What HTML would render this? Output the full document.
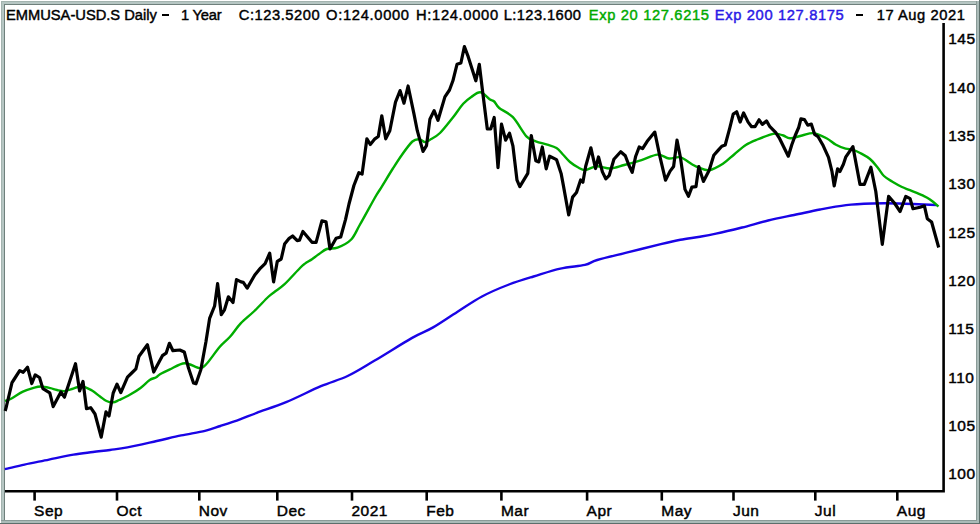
<!DOCTYPE html>
<html><head><meta charset="utf-8"><style>
html,body{margin:0;padding:0;width:980px;height:524px;overflow:hidden;background:#fff;}
body{position:relative;font-family:"Liberation Sans", sans-serif;}
</style></head><body>
<svg width="980" height="524" style="position:absolute;left:0;top:0">
<rect x="0" y="0" width="980" height="524" fill="#ffffff"/>
<rect x="1" y="1" width="978" height="1" fill="#a3b3af"/>
<rect x="1" y="1" width="1" height="522" fill="#a3b3af"/>
<rect x="2" y="2" width="974" height="2" fill="#b6c6c3"/>
<rect x="2" y="2" width="2" height="518" fill="#b6c6c3"/>
<rect x="4" y="4" width="972" height="1" fill="#6f807c"/>
<rect x="4" y="4" width="1" height="516" fill="#6f807c"/>
<rect x="976" y="1" width="1" height="522" fill="#8a9b98"/>
<rect x="1" y="520" width="976" height="1" fill="#8a9b98"/>
<rect x="977" y="1" width="2" height="523" fill="#aabbb8"/>
<rect x="1" y="521" width="978" height="2" fill="#aabbb8"/>
<rect x="979" y="0" width="1" height="524" fill="#5c6f6b"/>
<rect x="0" y="523" width="980" height="1" fill="#5c6f6b"/>
<path d="M5,491.2 H943.6 V23" fill="none" stroke="#000" stroke-width="2.6"/>
<path d="M34.6,491 V500.6" stroke="#000" stroke-width="2.6"/>
<path d="M117.0,491 V500.6" stroke="#000" stroke-width="2.6"/>
<path d="M199.3,491 V500.6" stroke="#000" stroke-width="2.6"/>
<path d="M277.3,491 V500.6" stroke="#000" stroke-width="2.6"/>
<path d="M352.0,491 V500.6" stroke="#000" stroke-width="2.6"/>
<path d="M426.7,491 V500.6" stroke="#000" stroke-width="2.6"/>
<path d="M501.4,491 V500.6" stroke="#000" stroke-width="2.6"/>
<path d="M587.1,491 V500.6" stroke="#000" stroke-width="2.6"/>
<path d="M661.8,491 V500.6" stroke="#000" stroke-width="2.6"/>
<path d="M733.5,491 V500.6" stroke="#000" stroke-width="2.6"/>
<path d="M815.3,491 V500.6" stroke="#000" stroke-width="2.6"/>
<path d="M897.3,491 V500.6" stroke="#000" stroke-width="2.6"/>
<path d="M4.9,469.1 C8.2,468.4 17.1,466.2 24.5,464.6 C31.9,463.0 40.8,461.3 49.0,459.6 C57.2,457.9 66.2,455.9 73.5,454.6 C80.8,453.3 86.9,452.8 93.0,452.0 C99.1,451.2 104.3,450.8 110.0,450.0 C115.7,449.2 119.6,448.9 127.4,447.4 C135.2,445.9 147.7,443.0 156.7,441.0 C165.7,439.0 173.1,437.1 181.2,435.4 C189.2,433.7 198.5,432.4 205.0,430.8 C211.5,429.2 214.6,427.9 220.4,426.0 C226.2,424.1 233.9,421.6 240.0,419.4 C246.1,417.2 249.0,415.8 256.7,412.9 C264.4,410.0 275.4,406.6 286.1,402.2 C296.8,397.8 310.6,390.6 320.9,386.2 C331.1,381.8 338.7,380.2 347.6,376.0 C356.5,371.8 363.6,367.1 374.3,360.8 C385.0,354.5 401.9,343.7 411.7,338.1 C421.5,332.5 425.5,331.8 433.1,327.4 C440.7,323.0 449.1,317.0 457.2,311.9 C465.3,306.8 473.4,301.1 482.0,296.5 C490.6,291.9 500.4,287.8 509.0,284.5 C517.6,281.2 524.9,279.1 533.5,276.5 C542.1,273.9 551.8,270.5 560.4,268.6 C569.0,266.7 578.8,266.3 584.9,264.9 C591.0,263.5 590.3,262.0 597.2,260.0 C604.1,258.0 615.9,255.3 626.5,252.7 C637.1,250.0 651.8,246.3 660.8,244.1 C669.8,241.9 673.9,240.9 680.4,239.7 C686.9,238.5 694.1,237.7 700.0,236.7 C705.9,235.7 709.0,235.2 716.0,233.7 C723.0,232.2 733.3,229.7 742.0,227.5 C750.7,225.3 759.4,222.6 768.1,220.5 C776.8,218.4 785.4,216.8 794.1,215.0 C802.8,213.2 811.4,211.2 820.1,209.5 C828.8,207.8 837.4,206.1 846.1,205.1 C854.8,204.1 863.4,203.8 872.1,203.5 C880.8,203.2 887.4,203.2 898.2,203.5 C909.1,203.8 930.7,204.8 937.2,205.1" fill="none" stroke="#1a04e6" stroke-width="2.4" stroke-linejoin="round"/>
<path d="M5.0,401.0 C6.1,400.6 8.5,400.1 11.5,398.5 C14.5,396.9 19.1,393.5 22.9,391.7 C26.7,389.9 31.3,388.5 34.4,387.6 C37.5,386.7 38.5,386.4 41.2,386.5 C43.9,386.6 47.8,387.6 50.4,388.2 C53.0,388.8 54.6,389.5 57.0,390.0 C59.4,390.5 62.0,391.3 64.5,391.1 C67.0,390.9 69.1,389.8 72.0,389.0 C74.9,388.2 78.4,385.9 81.7,386.2 C85.0,386.4 89.0,388.8 92.0,390.5 C95.0,392.2 97.6,394.8 100.0,396.5 C102.4,398.2 104.3,400.0 106.5,401.0 C108.7,402.0 110.9,402.6 113.0,402.4 C115.1,402.2 116.4,401.3 119.2,400.0 C122.0,398.7 126.3,396.8 129.8,394.8 C133.4,392.8 137.2,390.5 140.5,388.0 C143.8,385.5 147.1,381.8 149.7,380.0 C152.2,378.2 154.1,378.4 155.8,377.5 C157.5,376.6 157.7,375.7 160.0,374.3 C162.3,372.9 165.8,371.2 169.9,369.4 C174.0,367.5 179.8,363.4 184.8,363.2 C189.8,363.0 196.0,368.1 199.7,368.1 C203.4,368.1 203.8,366.7 207.1,363.2 C210.4,359.7 215.8,351.4 219.6,347.0 C223.4,342.6 226.5,340.7 230.0,336.8 C233.5,332.9 236.6,327.7 240.7,323.4 C244.8,319.1 249.8,315.4 254.4,311.0 C259.0,306.6 264.7,300.2 268.1,297.0 C271.5,293.8 272.2,293.6 275.0,291.5 C277.8,289.4 280.4,288.1 284.6,284.2 C288.8,280.3 296.6,271.4 300.0,268.0 C303.4,264.6 303.0,265.1 305.0,263.6 C307.0,262.1 309.7,260.8 312.0,259.2 C314.3,257.6 316.2,256.0 318.7,254.3 C321.2,252.6 323.7,250.1 326.8,249.0 C329.9,247.9 333.4,249.3 337.5,247.7 C341.6,246.1 347.4,243.4 351.2,239.5 C354.9,235.6 356.0,231.5 360.0,224.5 C364.0,217.5 371.7,203.3 375.0,197.5 C378.3,191.7 377.0,194.3 380.0,189.5 C383.0,184.7 389.2,174.3 392.9,168.5 C396.6,162.7 398.8,159.2 402.0,154.7 C405.2,150.2 409.5,144.1 412.4,141.5 C415.3,138.9 417.1,139.1 419.2,139.2 C421.3,139.3 423.2,142.0 425.0,142.1 C426.8,142.2 427.5,141.3 430.0,139.8 C432.5,138.3 436.2,136.7 440.0,133.0 C443.8,129.3 449.0,122.4 452.9,117.5 C456.8,112.6 460.1,107.2 463.2,103.8 C466.3,100.4 468.4,98.8 471.3,96.9 C474.2,95.0 477.3,91.9 480.4,92.3 C483.4,92.7 487.3,97.7 489.6,99.2 C491.9,100.7 492.6,100.0 494.2,101.5 C495.8,103.0 496.1,105.4 499.2,108.0 C502.3,110.6 508.3,112.4 512.9,117.2 C517.5,122.0 522.9,132.7 526.7,136.7 C530.5,140.7 532.4,140.0 535.8,141.3 C539.2,142.6 543.8,143.6 547.3,144.7 C550.8,145.8 553.8,146.4 556.5,148.1 C559.2,149.8 561.1,152.7 563.4,155.0 C565.6,157.3 567.5,159.9 570.0,162.0 C572.5,164.1 575.8,166.2 578.3,167.5 C580.8,168.8 582.1,170.3 585.2,170.1 C588.3,169.9 592.5,166.5 596.7,166.2 C600.9,165.9 605.8,168.7 610.4,168.5 C615.0,168.3 619.0,166.4 624.2,165.0 C629.4,163.6 636.0,161.8 641.5,160.1 C647.0,158.4 652.9,154.9 657.5,154.6 C662.1,154.3 665.2,158.1 669.0,158.5 C672.8,158.9 676.6,156.4 680.4,157.3 C684.2,158.2 688.8,162.5 691.9,164.2 C695.0,165.9 695.9,166.6 698.8,167.6 C701.7,168.6 705.2,170.8 709.2,170.2 C713.2,169.6 718.7,166.5 722.9,163.8 C727.1,161.1 730.6,157.3 734.4,154.2 C738.2,151.1 742.0,147.4 745.8,145.0 C749.6,142.6 753.5,141.1 757.3,139.5 C761.1,137.9 765.8,136.2 768.8,135.2 C771.8,134.2 773.2,133.5 775.6,133.6 C778.0,133.7 781.0,134.7 783.4,135.5 C785.8,136.3 786.9,138.3 790.0,138.3 C793.1,138.3 798.2,136.3 802.1,135.5 C806.0,134.7 809.5,132.8 813.6,133.2 C817.7,133.6 822.8,136.3 826.5,138.2 C830.2,140.1 832.8,143.1 836.0,144.8 C839.2,146.6 842.7,147.9 845.6,148.7 C848.5,149.5 850.7,149.0 853.2,149.8 C855.8,150.6 858.1,151.9 860.9,153.4 C863.7,154.9 867.1,156.6 870.0,159.0 C872.9,161.4 875.7,165.2 878.0,168.0 C880.3,170.8 881.7,173.8 884.0,176.0 C886.3,178.2 889.0,179.7 892.0,181.5 C895.0,183.3 899.0,185.6 902.0,187.0 C905.0,188.4 906.7,188.8 910.0,190.2 C913.3,191.6 918.7,193.6 922.0,195.2 C925.3,196.8 927.2,197.6 930.0,199.5 C932.8,201.4 937.1,205.3 938.5,206.5" fill="none" stroke="#00ad00" stroke-width="2.4" stroke-linejoin="round"/>
<polyline points="5.2,411.0 6.5,406.0 12.0,382.6 13.7,380.0 19.7,370.6 23.2,372.3 27.5,367.2 31.8,383.5 35.2,374.9 39.5,377.5 42.9,388.6 49.8,392.9 53.2,406.6 60.9,392.0 64.4,397.2 75.5,363.7 79.6,390.9 83.0,381.4 86.5,408.7 90.7,407.7 95.0,414.0 101.2,437.1 106.0,411.9 109.0,416.0 113.2,393.0 117.0,384.2 120.8,392.6 127.5,377.2 131.7,373.0 135.9,368.8 139.0,356.2 147.4,344.7 153.7,372.0 162.4,355.7 166.1,353.2 169.4,343.3 172.9,350.7 179.8,350.0 184.3,352.0 188.5,368.1 193.5,383.0 196.0,383.8 200.9,369.4 205.9,342.0 209.6,318.4 214.6,306.0 217.6,283.7 221.3,314.7 224.5,309.8 228.4,296.8 233.0,302.5 236.5,279.6 241.0,281.9 243.3,282.3 247.2,288.1 254.8,275.0 260.5,268.1 265.1,263.6 269.7,253.2 273.6,281.9 277.3,261.3 281.2,259.0 284.6,244.1 289.2,238.3 292.6,236.0 297.2,240.6 299.5,240.2 302.9,231.5 312.0,242.3 316.1,242.3 321.9,220.9 326.0,221.7 330.0,249.0 336.1,238.3 340.7,237.0 345.5,219.6 349.0,204.0 353.9,185.5 358.9,172.7 362.1,174.1 366.9,138.8 370.3,144.5 374.9,138.8 378.3,136.5 381.8,115.8 385.7,138.8 389.8,130.7 395.5,102.1 400.1,90.6 404.0,103.2 408.1,86.0 413.9,113.6 417.3,130.7 423.0,151.4 426.5,145.6 429.9,119.3 434.1,110.6 438.0,120.3 444.9,96.9 449.5,90.0 452.9,80.8 457.0,64.3 460.9,63.0 464.4,46.5 467.8,55.6 475.8,80.8 479.3,64.3 482.7,92.3 487.3,129.0 490.7,129.0 494.2,117.5 498.0,167.6 501.5,124.1 505.6,140.1 509.5,133.2 512.9,145.8 517.0,180.2 519.8,186.6 527.8,173.4 531.3,135.5 535.8,160.7 538.8,161.9 542.3,147.0 546.2,168.8 549.6,156.2 556.5,159.6 561.1,173.4 563.4,185.6 568.7,215.0 572.6,197.1 576.5,192.5 580.6,179.9 582.9,182.2 585.7,166.2 590.9,147.8 595.5,168.5 598.5,157.0 602.4,171.9 605.8,178.8 609.3,175.3 613.9,159.3 620.7,151.7 625.3,155.8 628.8,165.0 632.2,172.3 635.7,156.2 639.2,147.0 642.6,148.6 647.2,141.3 654.8,132.1 659.8,156.2 665.5,180.2 670.1,171.1 673.6,166.5 677.0,140.1 680.4,157.3 685.0,189.4 688.5,196.3 691.9,187.1 696.0,186.6 698.8,166.5 703.4,181.4 709.2,170.2 713.8,155.3 718.3,150.1 721.8,146.2 725.2,145.0 729.8,127.8 733.2,114.1 736.7,111.8 740.1,122.1 743.6,112.9 748.1,122.1 751.6,126.7 755.0,126.7 759.1,119.8 762.3,124.4 766.5,120.9 769.9,126.7 775.6,132.4 779.2,137.8 788.3,156.2 791.8,144.7 795.2,135.5 798.7,127.5 800.9,118.8 804.4,119.5 807.8,125.2 811.3,124.1 814.7,134.4 818.1,136.7 822.7,144.7 828.5,157.3 831.9,171.1 834.2,186.0 837.6,168.8 839.9,171.5 843.4,164.2 845.7,157.2 852.9,146.6 860.0,184.4 864.3,184.4 870.9,167.2 875.8,191.5 882.3,244.4 888.6,196.4 894.4,203.0 900.1,211.5 905.8,196.4 910.1,198.7 913.0,208.7 920.1,207.3 924.4,205.8 927.3,218.7 931.6,222.0 938.7,247.5" fill="none" stroke="#000" stroke-width="3.2" stroke-linejoin="round"/>
<g font-family="Liberation Sans, sans-serif" font-size="15.5" fill="#000" stroke="#000" stroke-width="0.45" letter-spacing="0.5">
<text x="948.2" y="44.4">145</text>
<text x="948.2" y="92.7">140</text>
<text x="948.2" y="141.1">135</text>
<text x="948.2" y="189.4">130</text>
<text x="948.2" y="237.7">125</text>
<text x="948.2" y="286.0">120</text>
<text x="948.2" y="334.4">115</text>
<text x="948.2" y="382.7">110</text>
<text x="948.2" y="431.0">105</text>
<text x="948.2" y="479.4">100</text>
<text x="34.1" y="516">Sep</text>
<text x="116.5" y="516">Oct</text>
<text x="198.8" y="516">Nov</text>
<text x="276.8" y="516">Dec</text>
<text x="351.5" y="516">2021</text>
<text x="426.2" y="516">Feb</text>
<text x="500.9" y="516">Mar</text>
<text x="586.6" y="516">Apr</text>
<text x="661.3" y="516">May</text>
<text x="733.0" y="516">Jun</text>
<text x="814.8" y="516">Jul</text>
<text x="896.8" y="516">Aug</text>
</g>
<rect x="162" y="14" width="7" height="2" fill="#000"/>
<rect x="856" y="14" width="7" height="2" fill="#000"/>
<g transform="translate(6.0,0) scale(0.95,1)"><text x="0" y="19.9" font-family="Liberation Sans, sans-serif" font-size="15.5" fill="#000" stroke="#000" stroke-width="0.45" textLength="158.72" lengthAdjust="spacing">EMMUSA-USD.S Daily</text></g>
<g transform="translate(180.9,0) scale(0.95,1)"><text x="0" y="19.9" font-family="Liberation Sans, sans-serif" font-size="15.5" fill="#000" stroke="#000" stroke-width="0.45" textLength="42.89" lengthAdjust="spacing">1 Year</text></g>
<g transform="translate(238.75,0) scale(0.95,1)"><text x="0" y="19.9" font-family="Liberation Sans, sans-serif" font-size="15.5" fill="#000" stroke="#000" stroke-width="0.45" textLength="85.12" lengthAdjust="spacing">C:123.5200</text></g>
<g transform="translate(326.1,0) scale(0.95,1)"><text x="0" y="19.9" font-family="Liberation Sans, sans-serif" font-size="15.5" fill="#000" stroke="#000" stroke-width="0.45" textLength="87.3" lengthAdjust="spacing">O:124.0000</text></g>
<g transform="translate(416.0,0) scale(0.95,1)"><text x="0" y="19.9" font-family="Liberation Sans, sans-serif" font-size="15.5" fill="#000" stroke="#000" stroke-width="0.45" textLength="86.43" lengthAdjust="spacing">H:124.0000</text></g>
<g transform="translate(503.75,0) scale(0.95,1)"><text x="0" y="19.9" font-family="Liberation Sans, sans-serif" font-size="15.5" fill="#000" stroke="#000" stroke-width="0.45" textLength="81.22" lengthAdjust="spacing">L:123.1600</text></g>
<g transform="translate(588.75,0) scale(0.95,1)"><text x="0" y="19.9" font-family="Liberation Sans, sans-serif" font-size="15.5" fill="#00aa00" stroke="#00aa00" stroke-width="0.45" textLength="126.63" lengthAdjust="spacing">Exp 20 127.6215</text></g>
<g transform="translate(714.8,0) scale(0.95,1)"><text x="0" y="19.9" font-family="Liberation Sans, sans-serif" font-size="15.5" fill="#2a1ae6" stroke="#2a1ae6" stroke-width="0.45" textLength="135.78" lengthAdjust="spacing">Exp 200 127.8175</text></g>
<g transform="translate(876.7,0) scale(0.95,1)"><text x="0" y="19.9" font-family="Liberation Sans, sans-serif" font-size="15.5" fill="#000" stroke="#000" stroke-width="0.45" textLength="92.81" lengthAdjust="spacing">17 Aug 2021</text></g>
</svg>
</body></html>
